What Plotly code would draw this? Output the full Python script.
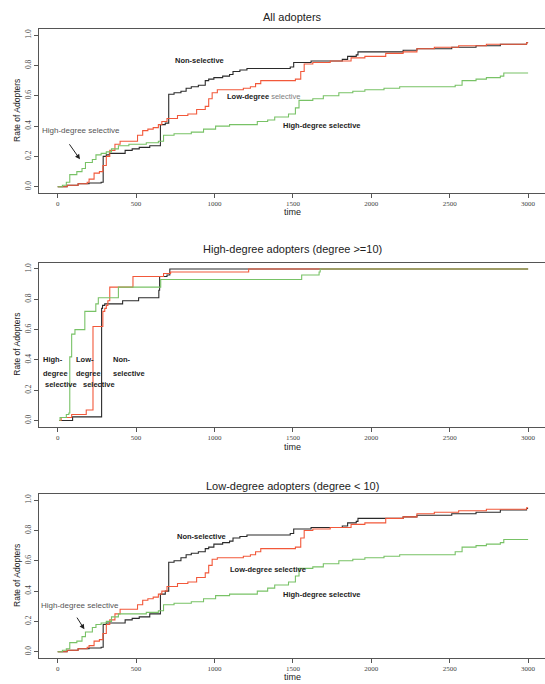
import plotly.graph_objects as go

# ---------------- data ----------------
# Panel 1: All adopters
ns1_t = [0, 60, 130, 200, 277, 290, 310, 330, 430, 475, 520, 587, 655, 686, 708, 742, 786, 819, 852, 897,
         941, 963, 996, 1052, 1096, 1118, 1162, 1207, 1483, 1505, 1616, 1815, 1849, 1904, 1915, 2203, 2291,
         2513, 2668, 2823, 2990, 3000]
ns1_v = [0, .01, .02, .025, .03, .20, .21, .22, .24, .25, .26, .27, .41, .42, .61, .62, .63, .65, .66, .67,
         .70, .71, .72, .73, .74, .76, .77, .78, .79, .82, .83, .84, .86, .87, .89, .90, .91,
         .92, .93, .94, .95, .95]
lo1_t = [0, 60, 130, 188, 200, 232, 266, 288, 310, 332, 365, 398, 509, 542, 575, 609, 642, 664, 697, 764,
         830, 886, 941, 963, 985, 1018, 1184, 1229, 1262, 1295, 1516, 1550, 1572, 1627, 1738, 1871, 1959,
         2092, 2203, 2291, 2402, 2557, 2734, 2990, 3000]
lo1_v = [0, .01, .02, .03, .05, .09, .10, .14, .20, .24, .28, .30, .34, .37, .38, .39, .41, .43, .45, .47,
         .48, .51, .53, .58, .62, .64, .65, .66, .68, .70, .71, .76, .81, .82, .83, .85, .86,
         .88, .89, .91, .92, .93, .94, .95, .95]
hi1_t = [0, 30, 55, 77, 122, 155, 177, 221, 244, 277, 310, 343, 387, 454, 565, 642, 675, 742, 852, 930,
         1007, 1096, 1273, 1339, 1384, 1472, 1516, 1539, 1627, 1694, 1793, 1882, 1959, 2081, 2181, 2535,
         2579, 2668, 2734, 2823, 2845, 3000]
hi1_v = [0, .01, .03, .08, .10, .12, .16, .18, .21, .22, .23, .25, .27, .28, .29, .30, .34, .35, .36, .38,
         .40, .41, .43, .44, .46, .48, .52, .57, .58, .60, .62, .63, .64, .65, .66, .67,
         .70, .71, .72, .73, .75, .75]

# Panel 2: High-degree adopters
ns2_t = [10, 95, 280, 286, 300, 414, 516, 645, 650, 697, 715, 3000]
ns2_v = [0, .024, .74, .76, .77, .79, .81, .86, .95, .96, 1.0, 1.0]
lo2_t = [10, 22, 89, 182, 225, 288, 300, 310, 320, 332, 480, 675, 720, 1218, 3000]
lo2_v = [0, .02, .04, .07, .62, .72, .74, .76, .79, .88, .95, .97, .98, 1.0, 1.0]
hi2_t = [10, 15, 55, 71, 77, 89, 110, 173, 243, 259, 387, 657, 1556, 1667, 1674, 3000]
hi2_v = [0, .02, .04, .05, .42, .57, .60, .72, .77, .81, .88, .93, .96, .98, 1.0, 1.0]

# Panel 3: Low-degree adopters
ns3_t = ns1_t
ns3_v = [0, .01, .02, .025, .03, .18, .19, .19, .21, .22, .23, .25, .38, .40, .59, .60, .62, .64, .65, .66,
         .68, .69, .71, .72, .73, .75, .76, .77, .78, .81, .82, .83, .85, .86, .88, .89, .90,
         .91, .92, .935, .945, .945]
lo3_t = lo1_t
lo3_v = [0, .01, .02, .03, .04, .07, .08, .12, .18, .21, .25, .28, .31, .34, .35, .36, .38, .40, .43, .45,
         .46, .49, .52, .57, .61, .62, .63, .64, .66, .68, .69, .75, .80, .81, .82, .84, .85,
         .88, .89, .91, .92, .93, .94, .95, .95]
hi3_t = hi1_t
hi3_v = [0, .01, .02, .06, .07, .10, .13, .16, .18, .19, .20, .23, .25, .25, .26, .27, .31, .32, .33, .35,
         .37, .38, .40, .42, .44, .46, .50, .55, .56, .58, .60, .61, .62, .63, .64, .66,
         .69, .70, .71, .72, .74, .74]

titles = ["All adopters", "High-degree adopters (degree >=10)", "Low-degree adopters (degree < 10)"]
x_ticks = [0, 500, 1000, 1500, 2000, 2500, 3000]
y_ticks = [0.0, 0.2, 0.4, 0.6, 0.8, 1.0]

# ---------------- style ----------------
W, H = 545, 684
C_NS = "#2a2a2a"
C_LO = "#f2583a"
C_HI = "#78c266"
FRAME = "#555555"
SANS = "Liberation Sans, Arial, sans-serif"
SERIF = "Liberation Serif, Times New Roman, serif"

# panel boxes in pixels (top, bottom)
boxes = [(29.1, 192.8), (262.9, 426.6), (494.1, 657.8)]
x_left_px = 39.0
x_range = [-119.3, 3107.8]

fig = go.Figure()

panels = [
    (ns1_t, ns1_v, lo1_t, lo1_v, hi1_t, hi1_v),
    (ns2_t, ns2_v, lo2_t, lo2_v, hi2_t, hi2_v),
    (ns3_t, ns3_v, lo3_t, lo3_v, hi3_t, hi3_v),
]

for i, (nt, nv, lt, lv, ht, hv) in enumerate(panels):
    sfx = "" if i == 0 else str(i + 1)
    xa, ya = "x" + sfx, "y" + sfx
    for t, v, c in ((nt, nv, C_NS), (lt, lv, C_LO), (ht, hv, C_HI)):
        fig.add_trace(go.Scatter(x=t, y=v, mode="lines", line=dict(color=c, width=1.1, shape="hv"),
                                 xaxis=xa, yaxis=ya, showlegend=False, hoverinfo="skip"))
    top, bot = boxes[i]
    fig.layout["xaxis" + sfx] = dict(
        domain=[x_left_px / W, 1], range=x_range, anchor=ya,
        tickvals=x_ticks, ticktext=[str(v) for v in x_ticks],
        ticks="outside", ticklen=4, tickcolor=FRAME, tickwidth=1,
        showline=True, linecolor=FRAME, linewidth=1.2, mirror=True,
        showgrid=False, zeroline=False,
        tickfont=dict(family=SERIF, size=7, color="#444444"), automargin=False)
    fig.layout["yaxis" + sfx] = dict(
        domain=[1 - bot / H, 1 - top / H], range=[-0.04, 1.04], anchor=xa,
        tickvals=y_ticks, ticktext=["%.1f" % v for v in y_ticks], tickangle=-90,
        ticks="outside", ticklen=4, tickcolor=FRAME, tickwidth=1,
        showline=True, linecolor=FRAME, linewidth=1.2, mirror=False,
        showgrid=False, zeroline=False,
        tickfont=dict(family=SERIF, size=7.5, color="#444444"), automargin=False)

ann = []
title_y = [16.5, 249.5, 485.5]
time_y = [212.5, 446.5, 677.0]
for i in range(3):
    top, bot = boxes[i]
    ann.append(dict(text=titles[i], xref="paper", yref="paper", x=292 / W, y=1 - title_y[i] / H,
                    showarrow=False, xanchor="center", yanchor="middle",
                    font=dict(family=SANS, size=11, color="#222222")))
    ann.append(dict(text="time", xref="paper", yref="paper", x=292 / W, y=1 - time_y[i] / H,
                    showarrow=False, xanchor="center", yanchor="middle",
                    font=dict(family=SANS, size=9, color="#222222")))
    ann.append(dict(text="Rate of Adopters", xref="paper", yref="paper", x=17 / W,
                    y=1 - (top + bot) / 2 / H, textangle=-90,
                    showarrow=False, xanchor="center", yanchor="middle",
                    font=dict(family=SANS, size=8.5, color="#222222")))

BOLD = dict(family=SANS, size=7.5, color="#222222")
REG = dict(family=SANS, size=8, color="#555555")

def lab(text, x, y, ref, font, xanchor="center"):
    ann.append(dict(text=text, x=x, y=y, xref="x" + ref, yref="y" + ref, showarrow=False,
                    xanchor=xanchor, yanchor="middle", font=font))

# panel 1
lab("<b>Non-selective</b>", 903, 0.83, "", BOLD)
lab("<b>Low-degree</b> <span style='color:#808080'>selective</span>", 1311, 0.594, "", BOLD)
lab("<b>High-degree selective</b>", 1686, 0.407, "", BOLD)
lab("High-degree selective", 147, 0.368, "", REG)
ann.append(dict(x=142, y=0.181, ax=68, ay=0.29, xref="x", yref="y", axref="x", ayref="y", text="",
                showarrow=True, arrowhead=2, arrowsize=1, arrowwidth=1, arrowcolor="#222222"))

# panel 2
for txt, x, y in (("High-", -108, .406), ("degree", -106, .312), ("selective", -96, .239),
                  ("Low-", 104, .406), ("degree", 104, .312), ("selective", 147, .239),
                  ("Non-", 338, .406), ("selective", 338, .312)):
    lab("<b>%s</b>" % txt, x, y, "2", BOLD, xanchor="left")

# panel 3
lab("<b>Non-selective</b>", 916, 0.758, "3", BOLD)
lab("<b>Low-degree selective</b>", 1339, 0.545, "3", BOLD)
lab("<b>High-degree selective</b>", 1684, 0.38, "3", BOLD)
lab("High-degree selective", 141, 0.303, "3", REG)
ann.append(dict(x=170, y=0.148, ax=117, ay=0.235, xref="x3", yref="y3", axref="x3", ayref="y3", text="",
                showarrow=True, arrowhead=2, arrowsize=1, arrowwidth=1, arrowcolor="#222222"))

fig.update_layout(width=W, height=H, margin=dict(l=0, r=0, t=0, b=0),
                  paper_bgcolor="white", plot_bgcolor="white", annotations=ann, showlegend=False)

fig.write_html("out.html", config={"displayModeBar": False},
               post_script="document.body.style.margin='0';document.body.style.overflow='hidden';")
